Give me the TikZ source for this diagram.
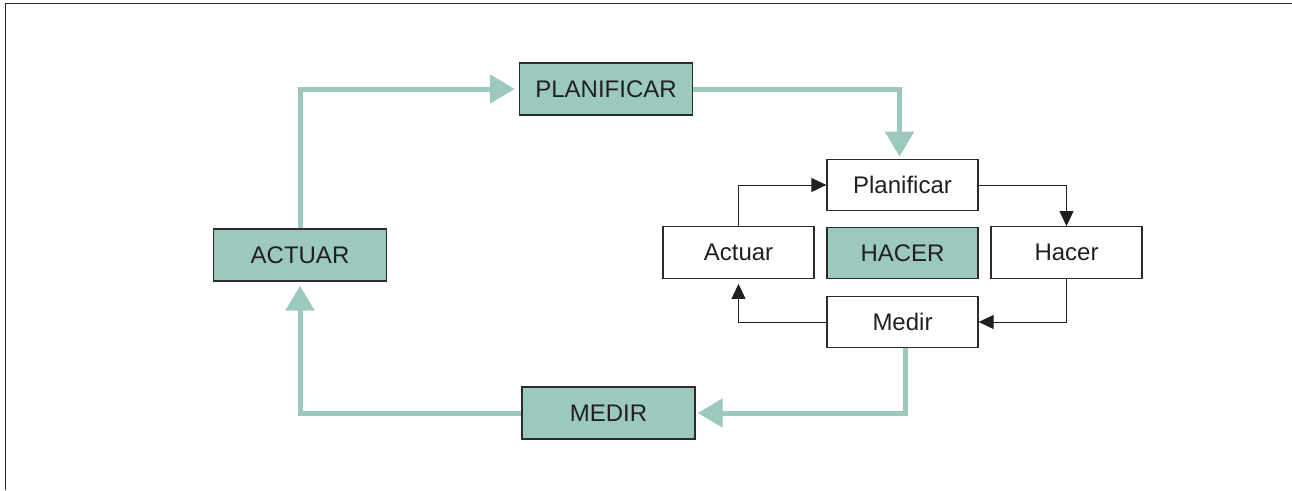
\documentclass[tikz,border=0pt]{standalone}
\usepackage{fontspec}
\setmainfont{Liberation Sans}
\usetikzlibrary{arrows.meta}
\definecolor{pdcagreen}{RGB}{156,201,190}
\definecolor{boxline}{RGB}{45,42,43}
\definecolor{txt}{RGB}{35,31,32}
\begin{document}
\begin{tikzpicture}[x=1pt,y=-1pt,
  bigbox/.style={draw=boxline, line width=1.3pt, fill=pdcagreen, minimum width=173pt, minimum height=52pt, inner sep=0pt, text=txt, font=\fontsize{24}{28}\selectfont},
  smallbox/.style={draw=boxline, line width=1.3pt, fill=white, minimum width=151pt, minimum height=51.5pt, inner sep=0pt, text=txt, font=\fontsize{24}{28}\selectfont},
  garrow/.style={draw=pdcagreen, line width=5pt, -{Triangle[length=25pt,width=28pt]}},
  karrow/.style={draw=txt, line width=1pt, -{Triangle[length=15pt,width=14pt]}}]
\useasboundingbox (0,0) rectangle (1292,490);
\draw[line width=1.8pt, draw=boxline] (5.5,490) -- (5.5,3.5) -- (1292,3.5);

% big cycle
\node[bigbox] (PLAN) at (606,89) {PLANIFICAR};
\node[bigbox] (ACT) at (300,255) {ACTUAR};
\node[bigbox] (MED) at (608.5,413) {MEDIR};

% small cycle
\node[smallbox] (sP) at (902.5,185) {Planificar};
\node[smallbox] (sA) at (738.5,252.5) {Actuar};
\node[smallbox, fill=pdcagreen] (sHC) at (902.5,253) {HACER};
\node[smallbox] (sH) at (1066.5,252.5) {Hacer};
\node[smallbox] (sM) at (902.5,322) {Medir};

% green arrows
\draw[garrow, shorten >=4pt] (ACT.north) |- (PLAN.west);
\draw[garrow, shorten >=2pt] (PLAN.east) -| ([xshift=-3pt]sP.north);
\draw[garrow, shorten >=2pt] ([xshift=3pt]sM.south) |- (MED.east);
\draw[garrow, shorten >=4pt] (MED.west) -| (ACT.south);

% black arrows
\draw[karrow] (sA.north) |- (sP.west);
\draw[karrow] (sP.east) -| (sH.north);
\draw[karrow] (sH.south) |- (sM.east);
\draw[karrow, shorten >=5pt] (sM.west) -| (sA.south);
\end{tikzpicture}
\end{document}
